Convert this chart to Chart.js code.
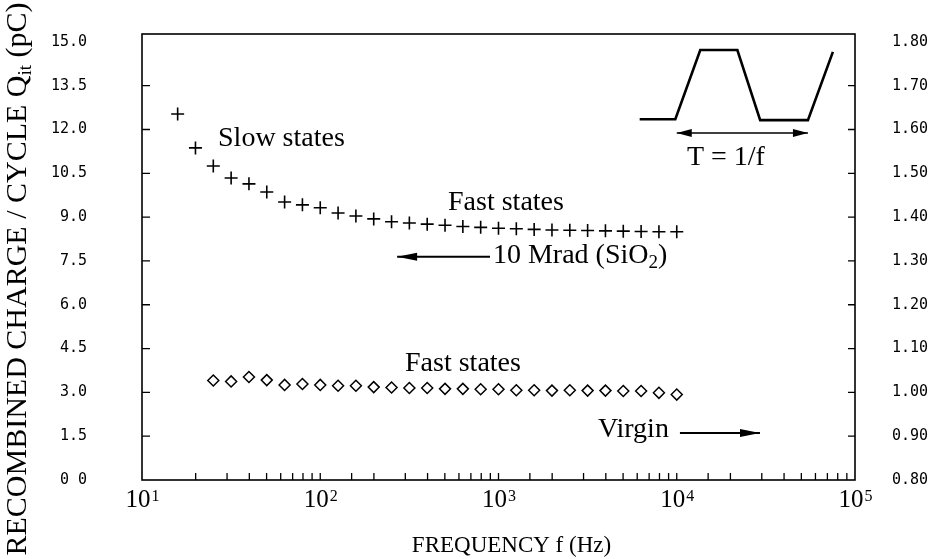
<!DOCTYPE html>
<html><head><meta charset="utf-8">
<script src="https://cdn.jsdelivr.net/npm/chart.js@4/dist/chart.umd.min.js"></script>
<style>html,body{margin:0;padding:0;background:#fff;}#wrap{width:943px;height:559px;}</style>
</head><body><div id="wrap"><canvas id="c" width="943" height="559"></canvas></div>
<script>
// ---- data ----
const freqIrradiated = [15.85, 19.95, 25.12, 31.62, 39.81, 50.12, 63.1, 79.43, 100, 125.9, 158.5, 199.5, 251.2, 316.2, 398.1, 501.2, 631, 794.3, 1000, 1259, 1585, 1995, 2512, 3162, 3981, 5012, 6310, 7943, 10000];
const chargeIrradiated = [12.53, 11.37, 10.75, 10.34, 10.14, 9.86, 9.52, 9.42, 9.32, 9.14, 9.04, 8.94, 8.84, 8.80, 8.76, 8.72, 8.68, 8.65, 8.62, 8.60, 8.58, 8.56, 8.55, 8.54, 8.53, 8.52, 8.51, 8.50, 8.50];
const freqVirgin = [25.12, 31.62, 39.81, 50.12, 63.1, 79.43, 100, 125.9, 158.5, 199.5, 251.2, 316.2, 398.1, 501.2, 631, 794.3, 1000, 1259, 1585, 1995, 2512, 3162, 3981, 5012, 6310, 7943, 10000];
const chargeVirgin = [1.027, 1.025, 1.035, 1.028, 1.017, 1.019, 1.017, 1.015, 1.015, 1.012, 1.011, 1.010, 1.010, 1.008, 1.008, 1.007, 1.007, 1.005, 1.005, 1.004, 1.005, 1.004, 1.004, 1.003, 1.003, 0.999, 0.995];
const leftTickValues = [0, 1.5, 3, 4.5, 6, 7.5, 9, 10.5, 12, 13.5, 15];
const leftTickLabels = ['0 0', '1.5', '3.0', '4.5', '6.0', '7.5', '9.0', '10.5', '12.0', '13.5', '15.0'];
const rightTickValues = [0.8, 0.9, 1.0, 1.1, 1.2, 1.3, 1.4, 1.5, 1.6, 1.7, 1.8];
const rightTickLabels = ['0.80', '0.90', '1.00', '1.10', '1.20', '1.30', '1.40', '1.50', '1.60', '1.70', '1.80'];
const xDecadeValues = [10, 100, 1000, 10000, 100000];
const xDecadeExponents = ['1', '2', '3', '4', '5'];
const xTitle = 'FREQUENCY f (Hz)';
const yTitleParts = ['RECOMBINED CHARGE / CYCLE Q', 'it', ' (pC)'];

const SERIF = '"Liberation Serif", "Times New Roman", serif';
const MONO = '"DejaVu Sans Mono", monospace';

function arrow(ctx, x1, y1, x2, y2, headLen, headHalf, both) {
  ctx.beginPath(); ctx.moveTo(x1, y1); ctx.lineTo(x2, y2); ctx.stroke();
  const head = (xa, ya, xb, yb) => {
    const a = Math.atan2(yb - ya, xb - xa);
    ctx.beginPath();
    ctx.moveTo(xb, yb);
    ctx.lineTo(xb - headLen * Math.cos(a) + headHalf * Math.sin(a), yb - headLen * Math.sin(a) - headHalf * Math.cos(a));
    ctx.lineTo(xb - headLen * Math.cos(a) - headHalf * Math.sin(a), yb - headLen * Math.sin(a) + headHalf * Math.cos(a));
    ctx.closePath(); ctx.fill();
  };
  head(x1, y1, x2, y2);
  if (both) head(x2, y2, x1, y1);
}

const decor = {
  id: 'decor',
  afterDraw(chart) {
    const ctx = chart.ctx, a = chart.chartArea;
    const xs = chart.scales.x, yl = chart.scales.y, yr = chart.scales.y2;
    ctx.save();
    ctx.strokeStyle = '#000'; ctx.fillStyle = '#000';
    // frame
    ctx.lineWidth = 1.6;
    ctx.strokeRect(a.left, a.top, a.right - a.left, a.bottom - a.top);
    // inward ticks
    ctx.lineWidth = 1.3;
    ctx.beginPath();
    xs.ticks.forEach(t => {
      const px = xs.getPixelForValue(t.value);
      if (px > a.left + 2 && px < a.right - 2) { ctx.moveTo(px, a.bottom); ctx.lineTo(px, a.bottom - 7); }
    });
    yl.ticks.forEach(t => {
      const py = yl.getPixelForValue(t.value);
      if (py < a.bottom - 2 && t.value < 15) { ctx.moveTo(a.left, py); ctx.lineTo(a.left + 8, py); }
    });
    yr.ticks.forEach(t => {
      const py = yr.getPixelForValue(t.value);
      if (py < a.bottom - 2 && t.value < 1.79) { ctx.moveTo(a.right, py); ctx.lineTo(a.right - 7, py); }
    });
    ctx.stroke();
    // x decade labels with superscripts
    const base = 25, sup = 16, baseY = 507;
    xDecadeValues.forEach((v, i) => {
      const px = xs.getPixelForValue(v);
      ctx.font = base + 'px ' + SERIF; const wb = ctx.measureText('10').width;
      ctx.font = sup + 'px ' + SERIF; const we = ctx.measureText(xDecadeExponents[i]).width;
      const x0 = px - (wb + we) / 2;
      ctx.textAlign = 'left'; ctx.textBaseline = 'alphabetic';
      ctx.font = base + 'px ' + SERIF; ctx.fillText('10', x0, baseY);
      ctx.font = sup + 'px ' + SERIF; ctx.fillText(xDecadeExponents[i], x0 + wb + 1, baseY - 6);
    });
    // x title
    ctx.font = '23px ' + SERIF; ctx.textAlign = 'center';
    ctx.fillText(xTitle, (a.left + a.right) / 2 + 13, 552);
    // y title (rotated, with subscript)
    ctx.save();
    ctx.translate(26, 279); ctx.rotate(-Math.PI / 2);
    const fs = 30, fsub = 19;
    ctx.font = fs + 'px ' + SERIF; const w1 = ctx.measureText(yTitleParts[0]).width; const w3 = ctx.measureText(yTitleParts[2]).width;
    ctx.font = fsub + 'px ' + SERIF; const w2 = ctx.measureText(yTitleParts[1]).width;
    let x = -(w1 + w2 + w3) / 2;
    ctx.textAlign = 'left';
    ctx.font = fs + 'px ' + SERIF; ctx.fillText(yTitleParts[0], x, 0); x += w1;
    ctx.font = fsub + 'px ' + SERIF; ctx.fillText(yTitleParts[1], x, 5); x += w2;
    ctx.font = fs + 'px ' + SERIF; ctx.fillText(yTitleParts[2], x, 0);
    ctx.restore();
    // annotations (anchored in data coordinates)
    ctx.font = '28px ' + SERIF; ctx.textAlign = 'left'; ctx.textBaseline = 'middle';
    ctx.fillText('Slow states', xs.getPixelForValue(26.7), yl.getPixelForValue(11.7));
    ctx.fillText('Fast states', xs.getPixelForValue(521), yl.getPixelForValue(9.49));
    ctx.fillText('Fast states', xs.getPixelForValue(299), yl.getPixelForValue(4.0));
    ctx.fillText('Virgin', xs.getPixelForValue(3614), yl.getPixelForValue(1.71));
    // 10 Mrad (SiO2)
    let mx = xs.getPixelForValue(931), my = yl.getPixelForValue(7.67);
    const p1 = '10 Mrad (SiO'; ctx.fillText(p1, mx, my); mx += ctx.measureText(p1).width;
    ctx.font = '19px ' + SERIF; ctx.fillText('2', mx, my + 7); mx += ctx.measureText('2').width;
    ctx.font = '28px ' + SERIF; ctx.fillText(')', mx, my);
    // arrows
    ctx.lineWidth = 2;
    arrow(ctx, xs.getPixelForValue(896), yl.getPixelForValue(7.64), xs.getPixelForValue(270), yl.getPixelForValue(7.64), 20, 4, false);
    arrow(ctx, xs.getPixelForValue(10420), yl.getPixelForValue(1.61), xs.getPixelForValue(29300), yl.getPixelForValue(1.61), 20, 4, false);
    // inset waveform (relative to plot area)
    const W = a.right - a.left, H = a.bottom - a.top;
    const P = (fx, fy) => [a.left + fx * W, a.top + fy * H];
    const wave = [[0.698, 0.191], [0.748, 0.191], [0.783, 0.036], [0.835, 0.036], [0.867, 0.193], [0.934, 0.193], [0.969, 0.040]];
    ctx.lineWidth = 2.6; ctx.lineJoin = 'miter';
    ctx.beginPath();
    wave.forEach((p, i) => { const q = P(p[0], p[1]); i ? ctx.lineTo(q[0], q[1]) : ctx.moveTo(q[0], q[1]); });
    ctx.stroke();
    ctx.lineWidth = 1.6;
    const L = P(0.750, 0.222), R = P(0.934, 0.222);
    arrow(ctx, L[0], L[1], R[0], R[1], 15, 4, true);
    ctx.font = '28px ' + SERIF; ctx.textAlign = 'center'; ctx.textBaseline = 'middle';
    const T = P(0.819, 0.278);
    ctx.fillText('T = 1/f', T[0], T[1]);
    ctx.restore();
  }
};

new Chart(document.getElementById('c'), {
  type: 'scatter',
  data: {
    datasets: [
      { label: '10 Mrad (SiO2)', data: freqIrradiated.map((f, i) => ({ x: f, y: chargeIrradiated[i] })), yAxisID: 'y',
        pointStyle: 'cross', pointRadius: 6.5, borderColor: '#000', borderWidth: 1.6, showLine: false },
      { label: 'Virgin', data: freqVirgin.map((f, i) => ({ x: f, y: chargeVirgin[i] })), yAxisID: 'y2',
        pointStyle: 'rectRot', pointRadius: 5.5, borderColor: '#000', backgroundColor: '#fff', borderWidth: 1.5, showLine: false }
    ]
  },
  options: {
    responsive: false, animation: false, devicePixelRatio: 1,
    layout: { padding: { top: 34, left: 0, right: 0, bottom: 0 } },
    plugins: { legend: { display: false }, tooltip: { enabled: false } },
    scales: {
      x: { type: 'logarithmic', min: 10, max: 100000, position: 'bottom',
        grid: { display: false, drawTicks: false }, border: { display: false },
        ticks: { display: false, autoSkip: false, padding: 0 },
        afterFit(s) { s.height = 79; } },
      y: { type: 'linear', position: 'left', min: 0, max: 15.27,
        grid: { display: false, drawTicks: true, tickLength: 52 }, border: { display: false },
        afterBuildTicks(s) { s.ticks = leftTickValues.map(v => ({ value: v })); },
        ticks: { padding: 3, color: '#000', font: { family: MONO, size: 15 },
          callback: (v, i) => leftTickLabels[i] },
        afterFit(s) { s.width = 142; } },
      y2: { type: 'linear', position: 'right', min: 0.8, max: 1.818,
        grid: { display: false, drawTicks: true, tickLength: 34 }, border: { display: false },
        afterBuildTicks(s) { s.ticks = rightTickValues.map(v => ({ value: v })); },
        ticks: { padding: 3, color: '#000', font: { family: MONO, size: 15 },
          callback: (v, i) => rightTickLabels[i] },
        afterFit(s) { s.width = 88; } }
    }
  },
  plugins: [decor]
});
</script></body></html>
